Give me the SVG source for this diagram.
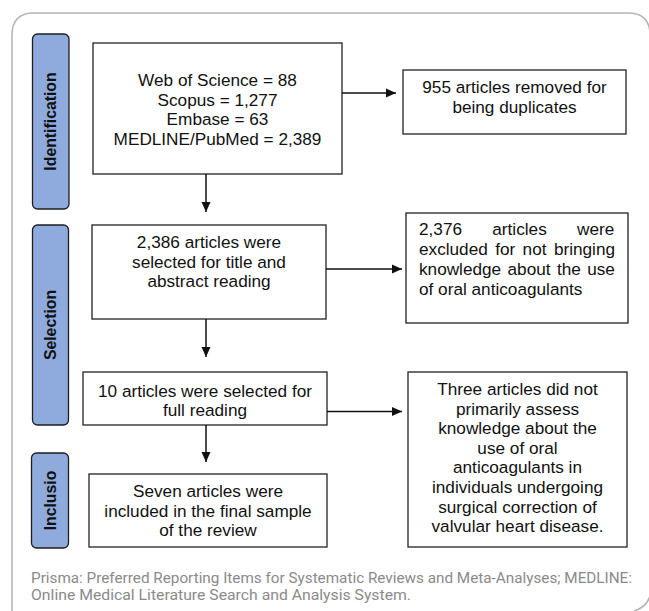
<svg xmlns="http://www.w3.org/2000/svg" width="649" height="611" viewBox="0 0 649 611">
<style>
.box{fill:#fff;stroke:#222;stroke-width:1.3}
.bar{fill:#8FAADC;stroke:#1e1e1e;stroke-width:1.3}
.t{font-family:"Liberation Sans",Arial,sans-serif;font-size:17.2px;fill:#111}
.c{text-anchor:middle}
.lbl{font-family:"Liberation Sans",Arial,sans-serif;font-size:15.8px;font-weight:bold;fill:#111;text-anchor:middle}
.conn{stroke:#111;stroke-width:1.5;fill:none}
.foot{font-family:Roboto,"Liberation Sans",sans-serif;font-size:14px;fill:#8a8a8a}
.frame{fill:none;stroke:#b3b3b3;stroke-width:1.5}
</style>
<defs>
<marker id="ah" markerUnits="userSpaceOnUse" markerWidth="10" markerHeight="10" refX="10" refY="5" orient="auto">
<path d="M0,0.5 L10,5 L0,9.5 Z" fill="#111"/>
</marker>
</defs>
<rect width="649" height="611" fill="#fff"/>
<path class="frame" d="M12,615 L12,35 Q12,13 34,13 L628,13 Q650,13 650,35"/>
<path class="frame" d="M634,611 Q650,606 651,590"/>

<g id="phase-identification">
<rect class="bar" x="32.5" y="34" width="36.5" height="175" rx="5"/>
<text class="lbl" transform="translate(55.5,121.5) rotate(-90)">Identification</text>
</g>
<g id="phase-selection">
<rect class="bar" x="32.5" y="225" width="36" height="200" rx="5"/>
<text class="lbl" transform="translate(55.5,325) rotate(-90)">Selection</text>
</g>
<g id="phase-inclusion">
<rect class="bar" x="31.5" y="453" width="37" height="95" rx="5"/>
<text class="lbl" transform="translate(55.5,500.5) rotate(-90)">Inclusio</text>
</g>

<g id="n-databases">
<rect class="box" x="93" y="43" width="249" height="131"/>
<text class="t c" x="217.5" y="86">Web of Science = 88</text>
<text class="t c" x="217.5" y="105.7">Scopus = 1,277</text>
<text class="t c" x="217.5" y="125.3">Embase = 63</text>
<text class="t c" x="217.5" y="145">MEDLINE/PubMed = 2,389</text>
</g>
<g id="n-duplicates">
<rect class="box" x="403" y="70" width="223" height="64"/>
<text class="t c" x="514.5" y="93">955 articles removed for</text>
<text class="t c" x="514.5" y="113">being duplicates</text>
</g>
<g id="n-title-abstract">
<rect class="box" x="92" y="225" width="234" height="94"/>
<text class="t c" x="209" y="248">2,386 articles were</text>
<text class="t c" x="209" y="267.5">selected for title and</text>
<text class="t c" x="209" y="287">abstract reading</text>
</g>
<g id="n-excluded-1">
<rect class="box" x="406" y="213" width="222" height="110"/>
<text class="t" x="419" y="235" word-spacing="25.5">2,376 articles were</text>
<text class="t" x="419" y="255" word-spacing="2.6">excluded for not bringing</text>
<text class="t" x="419" y="275" word-spacing="1.6">knowledge about the use</text>
<text class="t" x="419" y="295">of oral anticoagulants</text>
</g>
<g id="n-full-reading">
<rect class="box" x="83" y="372" width="244" height="53"/>
<text class="t c" x="205" y="397">10 articles were selected for</text>
<text class="t c" x="205" y="416">full reading</text>
</g>
<g id="n-excluded-2">
<rect class="box" x="408" y="372" width="219" height="175"/>
<text class="t c" x="517.5" y="395">Three articles did not</text>
<text class="t c" x="517.5" y="414.6">primarily assess</text>
<text class="t c" x="517.5" y="434.2">knowledge about the</text>
<text class="t c" x="517.5" y="453.8">use of oral</text>
<text class="t c" x="517.5" y="473.4">anticoagulants in</text>
<text class="t c" x="517.5" y="493">individuals undergoing</text>
<text class="t c" x="517.5" y="512.6">surgical correction of</text>
<text class="t c" x="517.5" y="532.2">valvular heart disease.</text>
</g>
<g id="n-included">
<rect class="box" x="89" y="474" width="238" height="73"/>
<text class="t c" x="208" y="497">Seven articles were</text>
<text class="t c" x="208" y="516.5">included in the final sample</text>
<text class="t c" x="208" y="536">of the review</text>
</g>

<g id="connectors">
<line class="conn" x1="342" y1="93" x2="396" y2="93" marker-end="url(#ah)"/>
<line class="conn" x1="206" y1="174" x2="206" y2="212" marker-end="url(#ah)"/>
<line class="conn" x1="326" y1="269" x2="402" y2="269" marker-end="url(#ah)"/>
<line class="conn" x1="206" y1="319" x2="206" y2="357" marker-end="url(#ah)"/>
<line class="conn" x1="327" y1="411.5" x2="402" y2="411.5" marker-end="url(#ah)"/>
<line class="conn" x1="206" y1="425" x2="206" y2="462" marker-end="url(#ah)"/>
</g>

<g id="footnote">
<text class="foot" x="31" y="583" textLength="601" lengthAdjust="spacingAndGlyphs">Prisma: Preferred Reporting Items for Systematic Reviews and Meta-Analyses; MEDLINE:</text>
<text class="foot" x="31" y="600" textLength="380" lengthAdjust="spacingAndGlyphs">Online Medical Literature Search and Analysis System.</text>
</g>
</svg>
